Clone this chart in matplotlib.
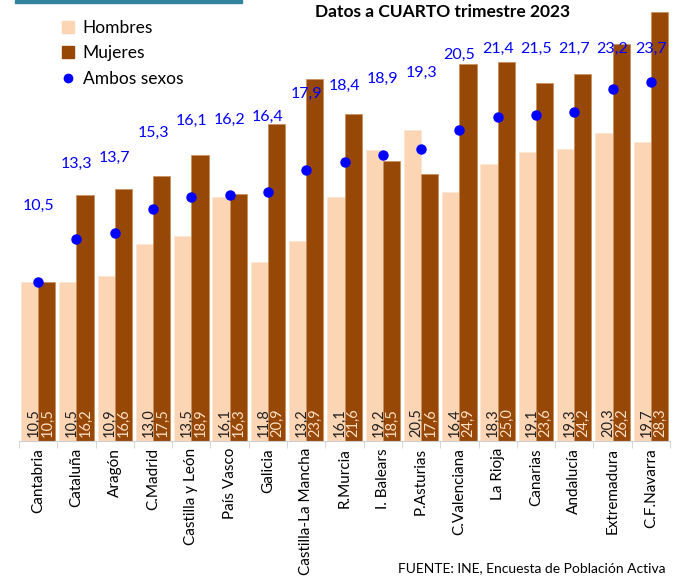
import numpy as np
import matplotlib
matplotlib.use("Agg")
import matplotlib.pyplot as plt
from matplotlib.patches import Rectangle
from matplotlib.lines import Line2D

plt.rcParams['font.family'] = ['Lato', 'DejaVu Sans']

# --- datos ---
regiones = ["Cantabria", "Cataluña", "Aragón", "C.Madrid", "Castilla y León",
            "País Vasco", "Galicia", "Castilla-La Mancha", "R.Murcia", "I. Balears",
            "P.Asturias", "C.Valenciana", "La Rioja", "Canarias", "Andalucía",
            "Extremadura", "C.F.Navarra"]
hombres = [10.5, 10.5, 10.9, 13.0, 13.5, 16.1, 11.8, 13.2, 16.1, 19.2,
           20.5, 16.4, 18.3, 19.1, 19.3, 20.3, 19.7]
mujeres = [10.5, 16.2, 16.6, 17.5, 18.9, 16.3, 20.9, 23.9, 21.6, 18.5,
           17.6, 24.9, 25.0, 23.6, 24.2, 26.2, 28.3]
ambos = [10.5, 13.3, 13.7, 15.3, 16.1, 16.2, 16.4, 17.9, 18.4, 18.9,
         19.3, 20.5, 21.4, 21.5, 21.7, 23.2, 23.7]

C_HOM = "#FCD5B5"
C_MUJ = "#974706"
C_AMB = "#0000FF"


def fmt(v):
    return f"{v:.1f}".replace(".", ",")


fig = plt.figure(figsize=(6.76, 5.79), dpi=100)
ax = fig.add_axes([19 / 676, 138 / 579, 651 / 676, 441 / 579])

x = np.arange(len(regiones))
ax.bar(x - 0.45, hombres, width=0.46, align="edge", color=C_HOM,
       edgecolor="#fbe6d4", linewidth=0.6, zorder=2)
ax.bar(x, mujeres, width=0.45, align="edge", color=C_MUJ,
       edgecolor="#c8925e", linewidth=0.6, zorder=2)
ax.plot(x, ambos, "o", color=C_AMB, markersize=6.5, zorder=4)

# etiquetas de valores
for i in range(len(regiones)):
    ax.text(x[i] - 0.12, 0.25, fmt(hombres[i]), rotation=90, ha="center",
            va="bottom", fontsize=10.5, color="#222222", zorder=5)
    ax.text(x[i] + 0.24, 0.25, fmt(mujeres[i]), rotation=90, ha="center",
            va="bottom", fontsize=10.5, color="#fde0c8", zorder=5)
    ax.text(x[i], min(ambos[i] + 5.0, 25.9), fmt(ambos[i]), ha="center",
            va="center", fontsize=11.5, color=C_AMB, zorder=5)

ax.set_xlim(-0.5, len(regiones) - 0.5)
ax.set_ylim(0, 29.1)
ax.set_yticks([])
for s in ["left", "right", "top"]:
    ax.spines[s].set_visible(False)
ax.spines["bottom"].set_color("#d0d0d0")

ax.set_xticks(x)
ax.set_xticklabels(regiones, rotation=90, fontsize=11, va="top")
ax.tick_params(axis="x", which="major", length=0, pad=5)
ax.set_xticks(np.arange(len(regiones) + 1) - 0.5, minor=True)
ax.tick_params(axis="x", which="minor", length=5, color="#d0d0d0")

# leyenda
handles = [
    Line2D([], [], marker="s", linestyle="none", color=C_HOM, markersize=9),
    Line2D([], [], marker="s", linestyle="none", color=C_MUJ, markersize=9),
    Line2D([], [], marker="o", linestyle="none", color=C_AMB, markersize=6),
]
fig.legend(handles, ["Hombres", "Mujeres", "Ambos sexos"], loc="upper left",
           bbox_to_anchor=(42 / 676, 1 - 4 / 579), frameon=False, fontsize=12.5,
           handletextpad=0.25, labelspacing=0.55, handlelength=1.2)

fig.text(443 / 676, 1 - 12 / 579, "Datos a CUARTO trimestre 2023", ha="center",
         va="center", fontsize=12.5, fontweight="bold")
fig.text(665 / 676, 1 - 568 / 579, "FUENTE: INE, Encuesta de Población Activa",
         ha="right", va="center", fontsize=10)
fig.add_artist(Rectangle((15 / 676, 1 - 3 / 579), 227 / 676, 3 / 579,
                         transform=fig.transFigure, color="#31849B"))

fig.savefig("out.png", dpi=100)
